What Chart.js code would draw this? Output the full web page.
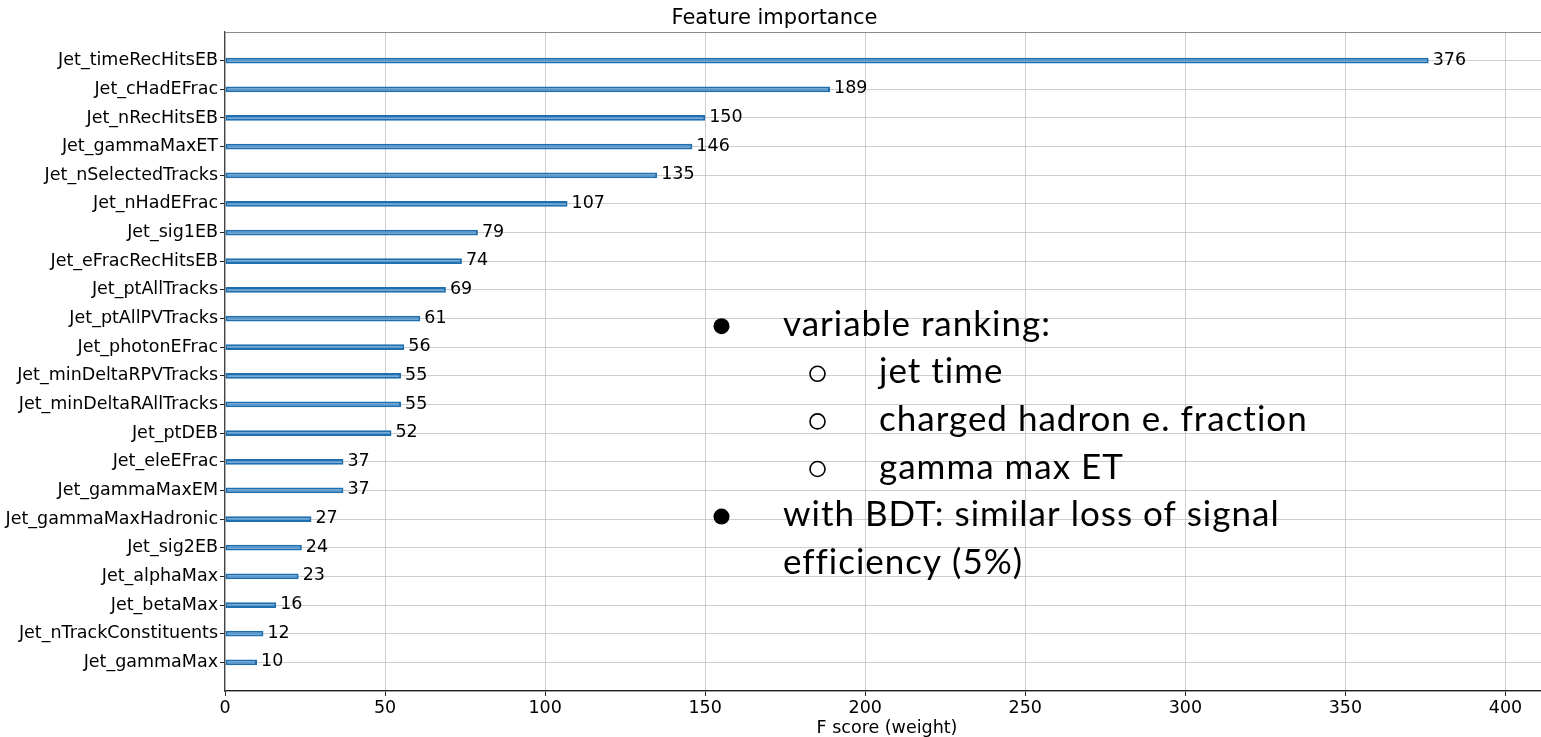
<!DOCTYPE html>
<html>
<head>
<meta charset="utf-8">
<title>Feature importance</title>
<script src="https://cdn.jsdelivr.net/npm/chart.js@4.4.1/dist/chart.umd.min.js"></script>
<style>
  html, body { margin: 0; padding: 0; overflow: hidden; background: #fff; }
  #wrap { position: relative; width: 1541px; height: 737px; overflow: hidden; }
  #importanceChart { position: absolute; left: 0; top: 0; }
</style>
</head>
<body>
<div id="wrap"><canvas id="importanceChart" width="1549" height="737"></canvas></div>
<script>
// features sorted from most to least important (top to bottom)
var features = [
    'Jet_timeRecHitsEB', 'Jet_cHadEFrac', 'Jet_nRecHitsEB', 'Jet_gammaMaxET',
    'Jet_nSelectedTracks', 'Jet_nHadEFrac', 'Jet_sig1EB', 'Jet_eFracRecHitsEB',
    'Jet_ptAllTracks', 'Jet_ptAllPVTracks', 'Jet_photonEFrac', 'Jet_minDeltaRPVTracks',
    'Jet_minDeltaRAllTracks', 'Jet_ptDEB', 'Jet_eleEFrac', 'Jet_gammaMaxEM',
    'Jet_gammaMaxHadronic', 'Jet_sig2EB', 'Jet_alphaMax', 'Jet_betaMax',
    'Jet_nTrackConstituents', 'Jet_gammaMax'
]
var fScores = [376, 189, 150, 146, 135, 107, 79, 74, 69, 61, 56, 55, 55, 52, 37, 37, 27, 24, 23, 16, 12, 10]
var xTickStep = 50
var xMax = 376 * 1.1

var notes = [
    { level: 0, bullet: true, text: 'variable ranking:' },
    { level: 1, bullet: true, text: 'jet time' },
    { level: 1, bullet: true, text: 'charged hadron e. fraction' },
    { level: 1, bullet: true, text: 'gamma max ET' },
    { level: 0, bullet: true, text: 'with BDT: similar loss of signal' },
    { level: 0, bullet: false, text: 'efficiency (5%)' }
]

// empty slot above and below so the bars sit one step away from the frame
var labels = [''].concat(features, [''])
var values = [null].concat(fScores, [null])
var lastIndex = labels.length - 1
var gridColor = 'rgba(180,180,180,0.65)'

Chart.defaults.font.family = '"DejaVu Sans", sans-serif'
Chart.defaults.color = '#000'

var valueLabels = {
    id: 'valueLabels',
    afterDraw: function (chart) {
        var ctx = chart.ctx
        var meta = chart.getDatasetMeta(0)
        ctx.save()
        ctx.font = '17.5px "DejaVu Sans"'
        ctx.fillStyle = '#000'
        ctx.textBaseline = 'middle'
        ctx.textAlign = 'left'
        meta.data.forEach(function (bar, i) {
            var v = chart.data.datasets[0].data[i]
            if (v === null) return
            ctx.fillText(String(v), bar.x + 4, bar.y - 0.5)
        })
        ctx.restore()
    }
}

var notesPlugin = {
    id: 'notes',
    afterDraw: function (chart) {
        var ctx = chart.ctx
        ctx.save()
        ctx.font = '35px Lato'
        ctx.letterSpacing = '1px'
        ctx.fillStyle = '#000'
        ctx.strokeStyle = '#000'
        ctx.textBaseline = 'alphabetic'
        notes.forEach(function (note, i) {
            var baseline = 335.7 + i * 47.6
            var bulletX = note.level === 0 ? 721.5 : 817.5
            var textX = note.level === 0 ? 783 : 879
            if (note.bullet) {
                ctx.beginPath()
                if (note.level === 0) {
                    ctx.arc(bulletX, baseline - 9.5, 8, 0, Math.PI * 2)
                    ctx.fill()
                } else {
                    ctx.lineWidth = 1.6
                    ctx.arc(bulletX, baseline - 9.5, 7.5, 0, Math.PI * 2)
                    ctx.stroke()
                }
            }
            ctx.fillText(note.text, textX, baseline)
        })
        ctx.restore()
    }
}

var ctx = document.getElementById('importanceChart')
var chart = new Chart(ctx, {
    type: 'bar',
    data: {
        labels: labels,
        datasets: [{
            data: values,
            backgroundColor: '#5b9bcf',
            borderColor: '#1f6fae',
            borderWidth: 2,
            borderSkipped: false,
            barPercentage: 0.2,
            categoryPercentage: 1
        }]
    },
    options: {
        indexAxis: 'y',
        responsive: false,
        animation: false,
        layout: { padding: 0 },
        plugins: {
            legend: { display: false },
            tooltip: { enabled: false },
            title: {
                display: true,
                text: 'Feature importance',
                color: '#000',
                font: { size: 21, weight: 'normal', lineHeight: 1.1 },
                padding: { top: 6.5, bottom: 2.4 }
            }
        },
        scales: {
            x: {
                type: 'linear',
                min: 0,
                max: xMax,
                z: 1,
                afterFit: function (scale) { scale.height = 46 },
                ticks: {
                    stepSize: xTickStep,
                    includeBounds: false,
                    padding: 2,
                    font: { size: 17.5, lineHeight: 1.2 },
                    color: '#000'
                },
                grid: {
                    color: gridColor,
                    lineWidth: 1,
                    tickColor: '#222',
                    tickLength: 5
                },
                border: { color: '#222', width: 1.2 },
                title: {
                    display: true,
                    text: 'F score (weight)',
                    color: '#000',
                    font: { size: 17.5, lineHeight: 1 },
                    padding: { top: 0, bottom: 0 }
                }
            },
            y: {
                type: 'category',
                offset: false,
                afterFit: function (scale) { scale.width = 225 },
                ticks: {
                    autoSkip: false,
                    padding: 2,
                    font: { size: 17.5 },
                    color: '#000'
                },
                grid: {
                    offset: false,
                    lineWidth: 1,
                    color: function (c) {
                        if (c.index === 0) return '#8a8a8a'
                        return gridColor
                    },
                    tickColor: function (c) {
                        return (c.index === 0 || c.index === lastIndex) ? 'rgba(0,0,0,0)' : '#222'
                    },
                    tickLength: 5
                },
                border: { color: '#444', width: 1.2 }
            }
        }
    },
    plugins: [valueLabels, notesPlugin]
})
</script>
</body>
</html>
